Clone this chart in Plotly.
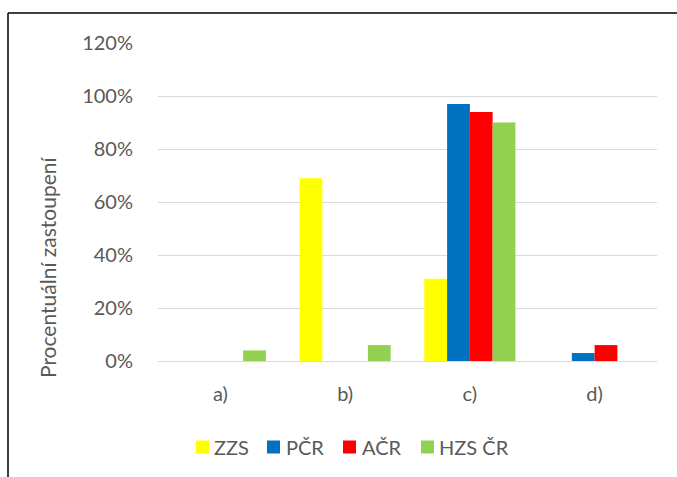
import plotly.graph_objects as go

categories = ["a)", "b)", "c)", "d)"]
series_names = ["ZZS", "PČR", "AČR", "HZS ČR"]
zzs = [0.0, 0.69, 0.31, 0.0]
pcr = [0.0, 0.0, 0.97, 0.03]
acr = [0.0, 0.0, 0.94, 0.06]
hzs = [0.04, 0.06, 0.90, 0.0]
colors = ["#FFFF00", "#0070C0", "#FF0000", "#92D050"]
y_title = "Procentuální zastoupení"

W, H = 677, 477
L, R, T, B = 158, 20, 43, 116
pw, ph = W - L - R, H - T - B

fig = go.Figure()
for name, vals, c in zip(series_names, [zzs, pcr, acr, hzs], colors):
    fig.add_trace(go.Bar(x=categories, y=vals, name=name, marker=dict(color=c, line=dict(width=0))))

font = "Lato, 'Open Sans', sans-serif"
grey = "#595959"

def px_x(x):
    return (x - L) / pw

def px_y(y):
    return (H - B - y) / ph

shapes = [
    dict(type="line", xref="paper", yref="paper", x0=px_x(8), x1=px_x(8), y0=px_y(13), y1=px_y(480),
         line=dict(color="black", width=1.5)),
    dict(type="line", xref="paper", yref="paper", x0=px_x(8), x1=px_x(690), y0=px_y(13), y1=px_y(13),
         line=dict(color="black", width=1.5)),
]
annotations = [dict(text=y_title, xref="paper", yref="paper", x=px_x(47), y=px_y(268),
                    textangle=-90, showarrow=False, font=dict(size=21, color=grey),
                    xanchor="center", yanchor="middle")]

# custom legend (Excel style: small square close to the label)
leg_sq_left = [196, 267, 343, 421]
leg_txt_left = [214, 286, 362, 439]
leg_cy = 447
for name, c, sx, tx in zip(series_names, colors, leg_sq_left, leg_txt_left):
    shapes.append(dict(type="rect", xref="paper", yref="paper", x0=px_x(sx), x1=px_x(sx + 13),
                       y0=px_y(leg_cy + 6.5), y1=px_y(leg_cy - 6.5), fillcolor=c, line=dict(width=0)))
    annotations.append(dict(text=name, xref="paper", yref="paper", x=px_x(tx), y=px_y(leg_cy),
                            xanchor="left", yanchor="middle", showarrow=False,
                            font=dict(size=20, color=grey), xshift=-2))

fig.update_layout(
    width=W, height=H,
    margin=dict(l=L, r=R, t=T, b=B),
    paper_bgcolor="white", plot_bgcolor="white",
    barmode="group", bargap=0.27, bargroupgap=0,
    font=dict(family=font, color=grey, size=20),
    showlegend=False,
    xaxis=dict(showgrid=False, showline=True, linecolor="#d9d9d9", linewidth=1,
               ticks="outside", ticklen=15, tickcolor="rgba(0,0,0,0)",
               tickfont=dict(size=20, color=grey)),
    yaxis=dict(range=[0, 1.2], dtick=0.2, tickformat=".0%", showgrid=True, gridcolor="#d9d9d9",
               gridwidth=1, zeroline=False, showline=False,
               ticks="outside", ticklen=20, tickcolor="rgba(0,0,0,0)",
               tickfont=dict(size=20, color=grey)),
    annotations=annotations,
    shapes=shapes,
)

fig.write_html("out.html", config={"displayModeBar": False},
               post_script="document.body.style.margin='0';document.body.style.overflow='hidden';")
